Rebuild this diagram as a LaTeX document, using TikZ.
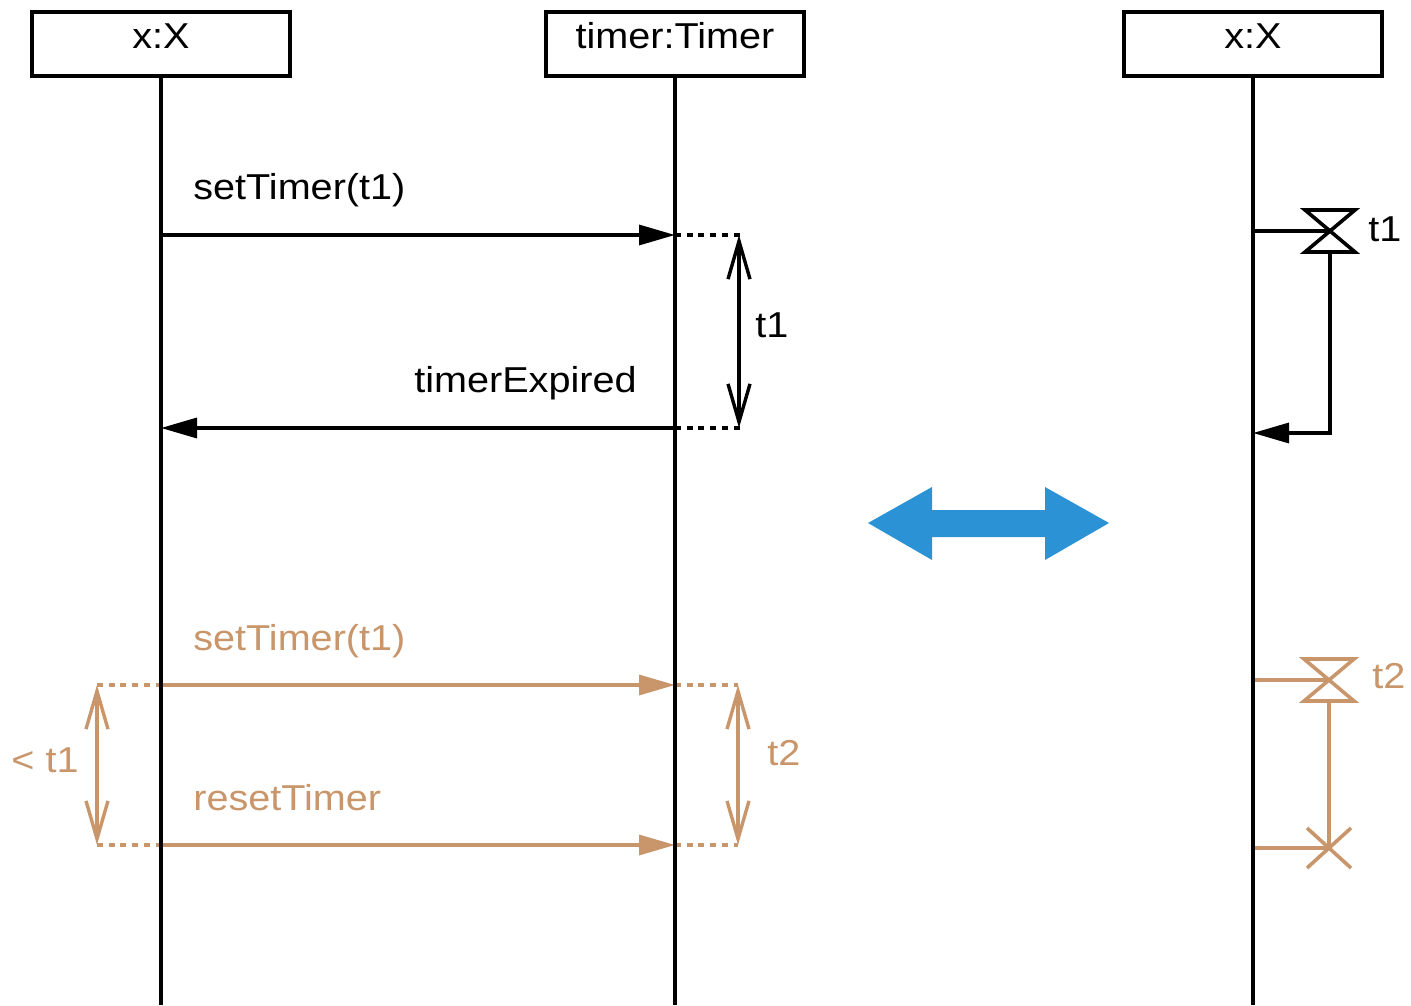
\documentclass[tikz,border=0pt]{standalone}
\usepackage{fontspec}
\setmainfont[FakeStretch=1.1]{Liberation Sans}
\usetikzlibrary{arrows.meta}
\definecolor{orng}{RGB}{201,149,106}
\definecolor{blu}{RGB}{43,147,213}
\tikzset{
  hourglass/.pic={\draw[line width=1.8pt,line join=miter] (-25,-21) -- (25,-21) -- (-25,21) -- (25,21) -- cycle;},
  crossmark/.pic={\draw[line width=1.8pt] (-22,-20) -- (22,20) (22,-20) -- (-22,20);}
}
\begin{document}
\begin{tikzpicture}[x=0.5pt,y=-0.5pt,
  every node/.style={font=\fontsize{18pt}{21pt}\selectfont, inner sep=0pt},
  lifebox/.style={draw, line width=1.8pt, minimum width=129pt, text height=18.5pt, text depth=13.5pt, anchor=north},
  lifeline/.style={line width=1.8pt},
  msg/.style={line width=1.7pt, -{Triangle[length=18pt,width=10pt]}},
  plain/.style={line width=1.7pt},
  dur/.style={line width=1.7pt, {Straight Barb[length=19pt,width=11pt]}-{Straight Barb[length=19pt,width=11pt]}},
  dots/.style={line width=1.7pt, dash pattern=on 3pt off 2.85pt},
  lblw/.style={anchor=base west},
  lble/.style={anchor=base east},
]
\useasboundingbox (0,0) rectangle (1411,1005);

% lifeline heads
\node[lifebox] (A) at (161,10) {x:X};
\node[lifebox] (B) at (675,10) {timer:Timer};
\node[lifebox] (C) at (1253,10) {x:X};
\coordinate (Aend) at (161,1005);
\coordinate (Bend) at (675,1005);
\coordinate (Cend) at (1253,1005);

% coordinates on lifelines
\coordinate (a1) at (161,235); \coordinate (b1) at (675,235); \coordinate (d1) at (740,235);
\coordinate (a2) at (161,428); \coordinate (b2) at (675,428); \coordinate (d2) at (740,428);
\coordinate (a3) at (161,685); \coordinate (b3) at (675,685); \coordinate (d3) at (738,685); \coordinate (e3) at (97,685);
\coordinate (a4) at (161,845); \coordinate (b4) at (675,845); \coordinate (d4) at (738,845); \coordinate (e4) at (97,845);

% black part
\draw[msg] (a1) -- (b1);
\node[lblw] (m1) at (193,200) {setTimer(t1)};
\draw[msg] (b2) -- (a2);
\node[lble] (m2) at (637,392) {timerExpired};
\draw[dots] (b1) -- (d1);
\draw[dots] (b2) -- (d2);
\draw[dur] (739,235) -- (739,428);
\node[lblw] (t1a) at (755,337) {t1};

% orange part
\begin{scope}[orng]
\draw[msg] (a3) -- (b3);
\node[lblw,text=orng] (m3) at (193,650) {setTimer(t1)};
\draw[msg] (a4) -- (b4);
\node[lblw,text=orng] (m4) at (193,810) {resetTimer};
\draw[dots] (b3) -- (d3);
\draw[dots] (b4) -- (d4);
\draw[dots] (e3) -- (a3);
\draw[dots] (e4) -- (a4);
\draw[dur] (d3) -- (d4);
\draw[dur] (e3) -- (e4);
\node[lblw,text=orng] (t2a) at (767,765) {t2};
\node[anchor=base,text=orng] (lt1) at (45,772) {< t1};
\end{scope}

% right side: timer notation
\coordinate (c1) at (1253,231); \coordinate (h1) at (1330,231);
\coordinate (h1b) at (1330,252); \coordinate (r1) at (1330,433); \coordinate (c2) at (1253,433);
\draw[plain] (c1) -- (h1);
\pic at (h1) {hourglass};
\draw[msg] (h1b) -- (r1) -- (c2);
\node[lblw] (t1b) at (1368,242) {t1};

\begin{scope}[orng]
\coordinate (c3) at (1253,680); \coordinate (h2) at (1329,680);
\coordinate (h2b) at (1329,701); \coordinate (x2) at (1329,848); \coordinate (c4) at (1253,848);
\draw[plain] (c3) -- (h2);
\pic[orng] at (h2) {hourglass};
\draw[plain] (h2b) -- (x2);
\draw[plain] (c4) -- (x2);
\pic[orng] at (x2) {crossmark};
\node[lblw,text=orng] (t2b) at (1372,688) {t2};
\end{scope}

% blue double arrow
\fill[blu] (868,523) -- (932,487) -- (932,510) -- (1045,510) -- (1045,487) -- (1109,523)
  -- (1045,560) -- (1045,537) -- (932,537) -- (932,560) -- cycle;

% lifelines
\draw[lifeline] (A.south) -- (Aend);
\draw[lifeline] (B.south) -- (Bend);
\draw[lifeline] (C.south) -- (Cend);
\end{tikzpicture}
\end{document}
